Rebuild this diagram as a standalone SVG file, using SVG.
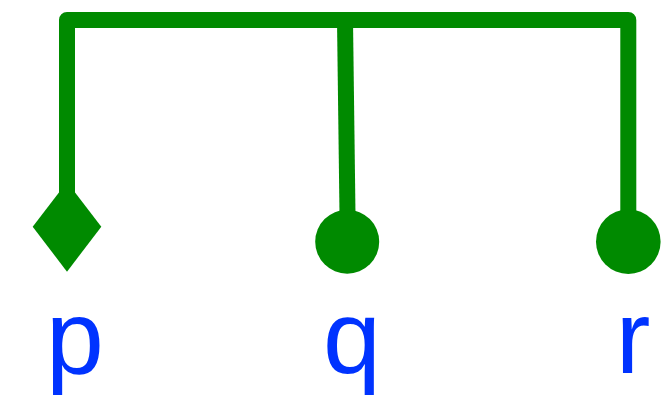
<svg xmlns="http://www.w3.org/2000/svg" width="661" height="398" viewBox="0 0 661 398">
<style>
.conn{fill:none;stroke:#008a00;stroke-width:16;stroke-linejoin:round;stroke-linecap:butt}
.end{fill:#008a00;stroke:none}
.lbl{font-family:"Liberation Sans",Arial,sans-serif;font-size:104px;fill:#0033ff;text-anchor:middle}
</style>
<rect width="661" height="398" fill="#ffffff"/>
<g id="connectors">
<path class="conn" d="M67,195 L67,20 L628.3,20 L628.3,215"/>
<path class="conn" d="M345,20 L347.5,215"/>
</g>
<g id="node-p">
<polygon class="end" points="67,182 101.3,226.7 67,271.7 32.7,226.7"/>
<text class="lbl" x="75" y="373">p</text>
</g>
<g id="node-q">
<circle class="end" cx="347.2" cy="241.7" r="32"/>
<text class="lbl" x="352" y="373">q</text>
</g>
<g id="node-r">
<circle class="end" cx="628.3" cy="241.7" r="32.3"/>
<text class="lbl" x="633" y="373">r</text>
</g>
</svg>
